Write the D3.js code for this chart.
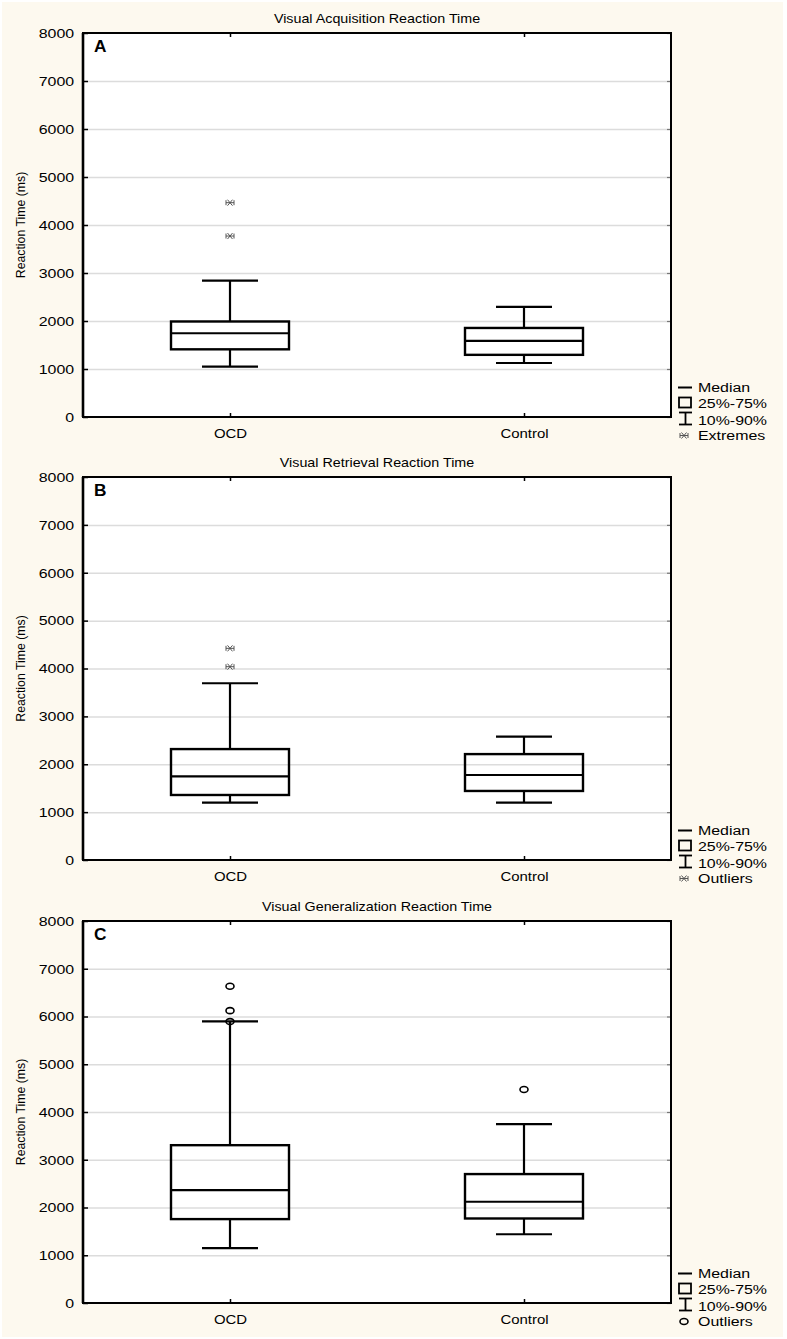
<!DOCTYPE html>
<html>
<head>
<meta charset="utf-8">
<script src="https://cdnjs.cloudflare.com/ajax/libs/d3/7.8.5/d3.min.js"></script>
<style>
  html, body { margin: 0; padding: 0; background: #ffffff; }
  svg { display: block; }
  text { font-family: "Liberation Sans", Arial, sans-serif; fill: #000; }
</style>
</head>
<body>
<svg id="chart" width="787" height="1339"></svg>
<script>
// ---------------- DATA ----------------
const categories = ["OCD", "Control"];
const yTicks = [0, 1000, 2000, 3000, 4000, 5000, 6000, 7000, 8000];
const panelTitles = [
  "Visual Acquisition Reaction Time",
  "Visual Retrieval Reaction Time",
  "Visual Generalization Reaction Time"
];
const panelLetters = ["A", "B", "C"];
const yAxisLabel = "Reaction Time (ms)";
const legendLabels = ["Median", "25%-75%", "10%-90%"];
const pointLabels = ["Extremes", "Outliers", "Outliers"];
const pointMarkers = ["star", "star", "circle"];

// Panel A: Visual Acquisition (OCD, Control)
const acqP10 = [1050, 1125];
const acqQ1 = [1410, 1295];
const acqMedian = [1745, 1585];
const acqQ3 = [1990, 1855];
const acqP90 = [2840, 2295];
const acqPoints = [[4465, 3770], []];

// Panel B: Visual Retrieval
const retP10 = [1198, 1198];
const retQ1 = [1358, 1442];
const retMedian = [1746, 1775];
const retQ3 = [2317, 2212];
const retP90 = [3692, 2579];
const retPoints = [[4421, 4038], []];

// Panel C: Visual Generalization
const genP10 = [1150, 1440];
const genQ1 = [1757, 1770];
const genMedian = [2364, 2120];
const genQ3 = [3305, 2700];
const genP90 = [5900, 3745];
const genPoints = [[6632, 6123, 5893], [4470]];

// ---------------- LAYOUT ----------------
const svg = d3.select("#chart");
svg.append("rect").attr("x", 2).attr("y", 2).attr("width", 781).attr("height", 1335)
  .attr("fill", "#fdf9ef");

const plotLeft = 83, plotRight = 671;
const panelTops = [33, 477, 921];
const panelBottoms = [417, 860, 1303];

const panels = [
  {p10: acqP10, q1: acqQ1, med: acqMedian, q3: acqQ3, p90: acqP90, pts: acqPoints},
  {p10: retP10, q1: retQ1, med: retMedian, q3: retQ3, p90: retP90, pts: retPoints},
  {p10: genP10, q1: genQ1, med: genMedian, q3: genQ3, p90: genP90, pts: genPoints}
];

function drawStar(g, cx, cy) {
  const s = g.append("g").attr("transform", `translate(${cx},${cy})`)
    .attr("stroke", "#555").attr("stroke-width", 1).attr("fill", "none");
  s.append("line").attr("x1", -4).attr("x2", 4).attr("y1", 0).attr("y2", 0);
  s.append("line").attr("x1", -2.5).attr("x2", 2.5).attr("y1", -3).attr("y2", 3);
  s.append("line").attr("x1", -2.5).attr("x2", 2.5).attr("y1", 3).attr("y2", -3);
  s.append("line").attr("x1", -4).attr("x2", -4).attr("y1", -2.5).attr("y2", 2.5);
  s.append("line").attr("x1", 4).attr("x2", 4).attr("y1", -2.5).attr("y2", 2.5);
}
function drawCircle(g, cx, cy) {
  g.append("ellipse").attr("cx", cx).attr("cy", cy).attr("rx", 4).attr("ry", 3)
    .attr("fill", "none").attr("stroke", "#000").attr("stroke-width", 1.6);
}

panels.forEach((p, i) => {
  const top = panelTops[i], bottom = panelBottoms[i];
  const y = d3.scaleLinear().domain([0, 8000]).range([bottom, top]);
  const x = d3.scalePoint().domain(categories).range([plotLeft, plotRight]).padding(0.5);
  const g = svg.append("g");

  // plot background
  g.append("rect").attr("x", plotLeft).attr("y", top)
    .attr("width", plotRight - plotLeft).attr("height", bottom - top).attr("fill", "#fff");

  // gridlines
  const grid = g.append("g").attr("transform", `translate(${plotLeft},0)`)
    .call(d3.axisLeft(y).tickValues(yTicks.slice(1, -1)).tickSize(-(plotRight - plotLeft)).tickFormat(""));
  grid.select(".domain").remove();
  grid.selectAll("line").attr("stroke", "#dcdcdc").attr("stroke-width", 1.5);

  // left axis with labels
  const ya = g.append("g").attr("transform", `translate(${plotLeft},0)`)
    .call(d3.axisLeft(y).tickValues(yTicks).tickFormat(d3.format("d"))
      .tickSizeInner(-5).tickSizeOuter(0).tickPadding(7.5));
  ya.select(".domain").remove();
  ya.selectAll("line").attr("stroke", "#000").attr("stroke-width", 1.5);
  ya.selectAll("text").attr("font-size", 13.5).attr("font-family", null)
    .attr("transform", "scale(1.18,1)");

  // right axis ticks
  const ra = g.append("g").attr("transform", `translate(${plotRight},0)`)
    .call(d3.axisRight(y).tickValues(yTicks).tickSizeInner(-4).tickSizeOuter(0).tickFormat(""));
  ra.select(".domain").remove();
  ra.selectAll("line").attr("stroke", "#777").attr("stroke-width", 1.2);

  // top axis ticks
  const ta = g.append("g").attr("transform", `translate(0,${top})`)
    .call(d3.axisTop(x).tickSizeInner(-4).tickSizeOuter(0).tickFormat(""));
  ta.select(".domain").remove();
  ta.selectAll("line").attr("stroke", "#000").attr("stroke-width", 1.5);

  // bottom axis with labels
  const ba = g.append("g").attr("transform", `translate(0,${bottom})`)
    .call(d3.axisBottom(x).tickSizeInner(-4).tickSizeOuter(0).tickPadding(11.5));
  ba.select(".domain").remove();
  ba.selectAll("line").attr("stroke", "#000").attr("stroke-width", 1.5);
  ba.selectAll("text").attr("font-size", 13).attr("font-family", null)
    .attr("transform", "scale(1.15,1)");

  // frame
  g.append("rect").attr("x", plotLeft).attr("y", top)
    .attr("width", plotRight - plotLeft).attr("height", bottom - top)
    .attr("fill", "none").attr("stroke", "#000").attr("stroke-width", 2);
  g.append("line").attr("x1", plotLeft).attr("x2", plotLeft).attr("y1", top).attr("y2", bottom)
    .attr("stroke", "#000").attr("stroke-width", 2.6);

  // title
  g.append("text").attr("transform", `translate(${(plotLeft + plotRight) / 2},${top - 10}) scale(1.1,1)`)
    .attr("text-anchor", "middle").attr("font-size", 13).text(panelTitles[i]);

  // panel letter
  g.append("text").attr("transform", `translate(94,${top + 19}) scale(1.08,1)`)
    .attr("font-size", 16).attr("font-weight", "bold").text(panelLetters[i]);

  // y axis label
  g.append("text")
    .attr("transform", `translate(25,${(top + bottom) / 2}) rotate(-90) scale(1,1.1)`)
    .attr("text-anchor", "middle").attr("font-size", 12.3).text(yAxisLabel);

  // boxes
  const boxW = 118, capW = 56;
  categories.forEach((c, j) => {
    const cx = x(c);
    const line = (x1, y1, x2, y2) => g.append("line").attr("x1", x1).attr("y1", y1)
      .attr("x2", x2).attr("y2", y2).attr("stroke", "#000").attr("stroke-width", 2.2);
    // whiskers
    line(cx, y(p.q3[j]), cx, y(p.p90[j]));
    line(cx, y(p.q1[j]), cx, y(p.p10[j]));
    line(cx - capW / 2, y(p.p90[j]), cx + capW / 2, y(p.p90[j]));
    line(cx - capW / 2, y(p.p10[j]), cx + capW / 2, y(p.p10[j]));
    // box
    g.append("rect").attr("x", cx - boxW / 2).attr("y", y(p.q3[j]))
      .attr("width", boxW).attr("height", y(p.q1[j]) - y(p.q3[j]))
      .attr("fill", "none").attr("stroke", "#000").attr("stroke-width", 2.4);
    line(cx - boxW / 2, y(p.med[j]), cx + boxW / 2, y(p.med[j]));
    // points
    p.pts[j].forEach(v => {
      if (pointMarkers[i] === "star") drawStar(g, cx, y(v));
      else drawCircle(g, cx, y(v));
    });
  });

  // legend
  const lx = 678, tx = 698;
  const lg = g.append("g");
  const offs = [-25, -9.5, 7.5, 22.5];
  // median
  lg.append("line").attr("x1", lx).attr("x2", lx + 14).attr("y1", bottom + offs[0] - 4.5).attr("y2", bottom + offs[0] - 4.5)
    .attr("stroke", "#000").attr("stroke-width", 2);
  // box
  lg.append("rect").attr("x", lx + 1).attr("y", bottom + offs[1] - 10).attr("width", 12).attr("height", 10)
    .attr("fill", "none").attr("stroke", "#000").attr("stroke-width", 1.8);
  // whisker
  const wy1 = bottom + offs[2] - 12, wy2 = bottom + offs[2];
  lg.append("line").attr("x1", lx + 1).attr("x2", lx + 14).attr("y1", wy1).attr("y2", wy1).attr("stroke", "#000").attr("stroke-width", 1.8);
  lg.append("line").attr("x1", lx + 1).attr("x2", lx + 14).attr("y1", wy2).attr("y2", wy2).attr("stroke", "#000").attr("stroke-width", 1.8);
  lg.append("line").attr("x1", lx + 7.5).attr("x2", lx + 7.5).attr("y1", wy1).attr("y2", wy2).attr("stroke", "#000").attr("stroke-width", 1.8);
  // point marker
  if (pointMarkers[i] === "star") drawStar(lg, lx + 6, bottom + offs[3] - 4);
  else drawCircle(lg, lx + 6, bottom + offs[3] - 4);
  const labs = legendLabels.concat([pointLabels[i]]);
  labs.forEach((t, k) => {
    lg.append("text").attr("transform", `translate(${tx},${bottom + offs[k]}) scale(1.18,1)`)
      .attr("font-size", 13.5).text(t);
  });
});
</script>
</body>
</html>
